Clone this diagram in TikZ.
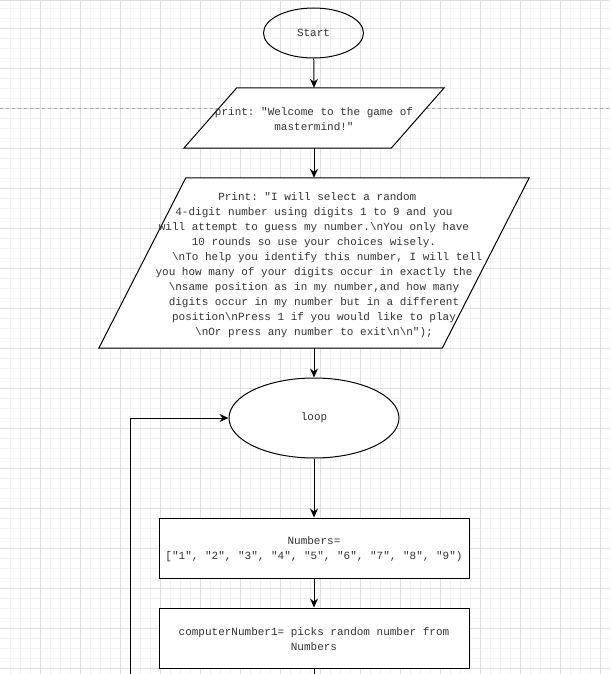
\documentclass[tikz,border=0pt]{standalone}
\usepackage{fontspec}
\setmonofont{Liberation Mono}
\usetikzlibrary{shapes.geometric,arrows.meta}
\definecolor{gridminor}{HTML}{F2F2F2}
\definecolor{gridmajor}{HTML}{DDDDDD}
\definecolor{txt}{HTML}{333333}
\tikzset{
  box/.style={draw, line width=1pt, rectangle, minimum width=310pt, minimum height=60pt, align=center, inner sep=0pt},
  term/.style={draw, line width=1pt, ellipse, inner sep=0pt, align=center},
  iohold/.style={draw=none, rectangle, inner sep=0pt, align=center},
  flow/.style={line width=1pt, -{Stealth[length=9pt,width=8pt,inset=3pt]}},
  plain/.style={line width=1pt},
  every node/.style={font=\ttfamily\fontsize{11}{15}\selectfont, text=txt}
}
\begin{document}
\begin{tikzpicture}[x=1pt,y=-1pt]
\useasboundingbox (0,0) rectangle (610,674);
\fill[white] (0,0) rectangle (610,674);
% grid
\foreach \i in {1,...,60} \draw[gridminor, line width=0.8pt] (10*\i,0) -- (10*\i,674);
\foreach \j in {0,...,66} \draw[gridminor, line width=0.8pt] (0,8+10*\j) -- (610,8+10*\j);
\foreach \i in {1,...,15} \draw[gridmajor, line width=0.8pt] (40*\i,0) -- (40*\i,674);
\foreach \j in {0,...,16} \draw[gridmajor, line width=0.8pt] (0,28+40*\j) -- (610,28+40*\j);
\draw[gridmajor, line width=1pt] (0,0.5) -- (610,0.5);
\draw[gray!70, line width=0.8pt, dash pattern=on 3pt off 3pt] (0,108) -- (610,108);

% nodes
\node[term, minimum width=100pt, minimum height=50pt] (start) at (313.5,33) {\raisebox{-1pt}{Start}};

\node[iohold, minimum width=260pt, minimum height=60pt] (p1) at (314,118) {};
\fill[white] ([xshift=53pt]p1.north west) -- (p1.north east) -- ([xshift=-53pt]p1.south east) -- (p1.south west) -- cycle;
\draw[plain] ([xshift=53pt]p1.north west) -- (p1.north east) -- ([xshift=-53pt]p1.south east) -- (p1.south west) -- cycle;
\node[iohold] (p1text) at (314,119.5) {print: "Welcome to the game of\\mastermind!"};

\node[iohold, minimum width=430pt, minimum height=170pt] (p2) at (314,263) {};
\fill[white] ([xshift=87pt]p2.north west) -- (p2.north east) -- ([xshift=-87pt]p2.south east) -- (p2.south west) -- cycle;
\draw[plain] ([xshift=87pt]p2.north west) -- (p2.north east) -- ([xshift=-87pt]p2.south east) -- (p2.south west) -- cycle;
\node[iohold] (p2text) at (314,265.5) {%
\hspace*{6.6pt}Print: "I will select a random\\
4-digit number using digits 1 to 9 and you\hspace*{6.6pt}\\
will attempt to guess my number.\textbackslash nYou only have\\
10 rounds so use your choices wisely.\\
\hspace*{26.4pt}\textbackslash nTo help you identify this number, I will tell\\
you how many of your digits occur in exactly the\\
\textbackslash nsame position as in my number,and how many\\
digits occur in my number but in a different\\
position\textbackslash nPress 1 if you would like to play\hspace*{6.6pt}\\
\textbackslash nOr press any number to exit\textbackslash n\textbackslash n");};

\node[term, minimum width=170pt, minimum height=80pt, fill=white] (loop) at (314,418) {\raisebox{-1pt}{loop}};

\node[box, fill=white] (nums) at (314,548) {};
\node[iohold] (numstext) at (314,549.5) {Numbers=\\{["1", "2", "3", "4", "5", "6", "7", "8", "9")}};
\node[box, fill=white] (cnum) at (314,638) {};
\node[iohold] (cnumtext) at (314,639.5) {computerNumber1= picks random number from\\Numbers};

\coordinate (bot) at (314,674);
\coordinate (back) at (130,674);

% connectors
\draw[flow] (start) -- (p1.north);
\draw[flow] (p1.south) -- (p2.north);
\draw[flow] (p2.south) -- (loop);
\draw[flow] (loop) -- (nums);
\draw[flow] (nums) -- (cnum);
\draw[plain] (cnum) -- (bot);
\draw[flow] (back) |- (loop.west);
\end{tikzpicture}
\end{document}
